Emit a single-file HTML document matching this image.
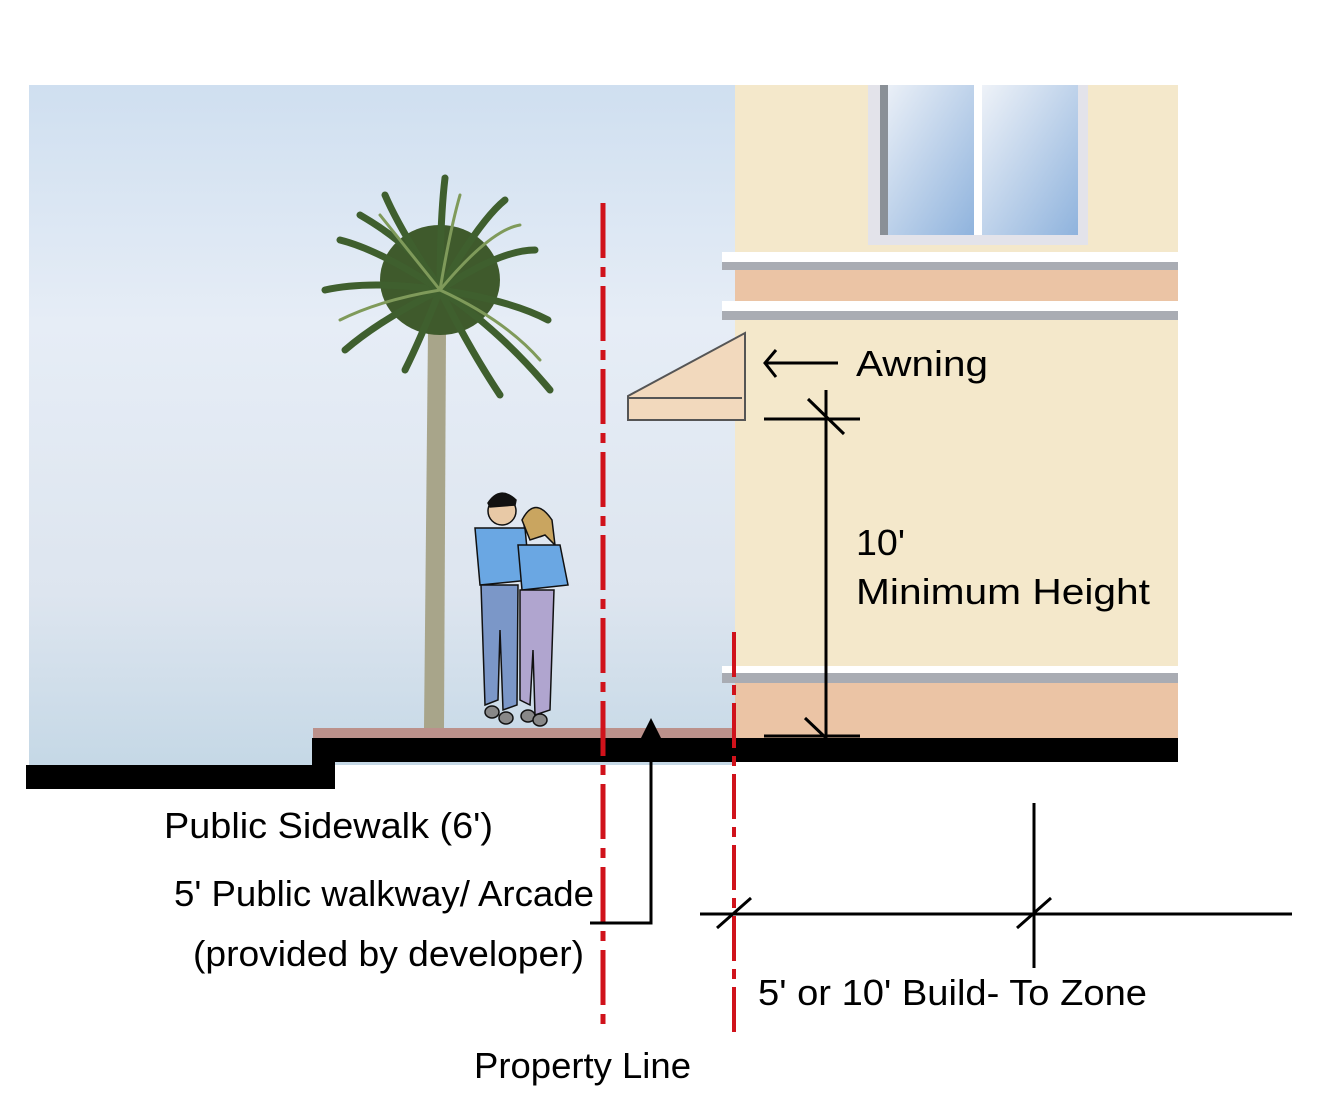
<!DOCTYPE html>
<html><head><meta charset="utf-8"><style>
html,body{margin:0;padding:0;background:#fff}
svg{display:block}
text{font-family:"Liberation Sans",sans-serif;fill:#000}
</style></head><body>
<svg width="1323" height="1101" viewBox="0 0 1323 1101" xmlns="http://www.w3.org/2000/svg">
<defs>
<linearGradient id="sky" x1="0" y1="0" x2="0" y2="1">
<stop offset="0" stop-color="#cfdff0"/><stop offset="0.35" stop-color="#e6edf6"/><stop offset="0.75" stop-color="#dde5ef"/><stop offset="1" stop-color="#c5d8e6"/>
</linearGradient>
<linearGradient id="win" x1="0" y1="0" x2="1" y2="1">
<stop offset="0" stop-color="#eef2f8"/><stop offset="1" stop-color="#8fb3dd"/>
</linearGradient>
</defs>
<rect x="29" y="85" width="706" height="680" fill="url(#sky)"/>
<rect x="735" y="85" width="443" height="653" fill="#f4e8cb"/>
<rect x="868" y="85" width="220" height="160" fill="#e3e3ea"/>
<rect x="880" y="85" width="95" height="150" fill="url(#win)"/>
<rect x="982" y="85" width="96" height="150" fill="url(#win)"/>
<rect x="880" y="85" width="8" height="150" fill="#8a9097"/>
<rect x="974" y="85" width="8" height="150" fill="#fff"/>
<rect x="722" y="252" width="456" height="10" fill="#fff"/>
<rect x="722" y="262" width="456" height="8" fill="#a9acb3"/>
<rect x="735" y="270" width="443" height="31" fill="#ebc4a5"/>
<rect x="722" y="301" width="456" height="10" fill="#fff"/>
<rect x="722" y="311" width="456" height="9" fill="#a9acb3"/>
<rect x="722" y="666" width="456" height="7" fill="#fff"/>
<rect x="722" y="673" width="456" height="10" fill="#a9acb3"/>
<rect x="735" y="683" width="443" height="55" fill="#ebc4a5"/>
<polygon points="628,396 745,333 745,420 628,420" fill="#f2d9bd" stroke="#555" stroke-width="2"/>
<line x1="628" y1="398" x2="742" y2="398" stroke="#555" stroke-width="2"/>
<rect x="313" y="728" width="420" height="10" fill="#bb918b"/>
<!-- palm -->
<path d="M428,330 L446,330 L444,728 L424,728 Z" fill="#a8a58a"/>
<g fill="#3f5a2c">
<ellipse cx="440" cy="280" rx="60" ry="55"/>
</g>
<g stroke="#3f5f2e" stroke-width="7" stroke-linecap="round" fill="none">
<path d="M440,290 Q400,230 385,195"/><path d="M440,290 Q440,220 445,178"/><path d="M440,290 Q480,220 505,200"/>
<path d="M440,290 Q500,250 535,250"/><path d="M440,290 Q510,300 548,320"/><path d="M440,290 Q500,330 550,390"/>
<path d="M440,290 Q470,350 500,395"/><path d="M440,290 Q420,340 405,370"/><path d="M440,290 Q380,320 345,350"/>
<path d="M440,290 Q370,280 325,290"/><path d="M440,290 Q380,250 340,240"/><path d="M440,290 Q420,250 360,215"/>
</g>
<g stroke="#7f9a5a" stroke-width="3" stroke-linecap="round" fill="none">
<path d="M440,290 Q400,240 380,215"/><path d="M440,290 Q490,230 520,225"/><path d="M440,290 Q505,320 540,360"/>
<path d="M440,290 Q380,300 340,320"/><path d="M440,290 Q450,230 460,195"/>
</g>
<g stroke="#111" stroke-width="1.5">
<circle cx="502" cy="511" r="14" fill="#e8c9a6"/>
<path d="M488,503 Q500,485 516,500 L515,505 L490,507Z" fill="#111"/>
<path d="M475,528 L525,528 L530,580 L480,585 Z" fill="#6aa7e3"/>
<path d="M481,585 L518,585 L517,705 L503,710 L500,630 L498,700 L485,705 Z" fill="#7b97c8"/>
<circle cx="537" cy="524" r="13" fill="#e8c9a6"/>
<path d="M522,520 Q535,495 552,520 L555,545 L545,535 L530,540Z" fill="#c9a560"/>
<path d="M518,545 L560,545 L568,585 L522,590 Z" fill="#6aa7e3"/>
<path d="M520,590 L554,590 L550,710 L535,715 L533,650 L530,705 L520,700 Z" fill="#b0a5cf"/>
<ellipse cx="492" cy="712" rx="7" ry="6" fill="#888"/><ellipse cx="506" cy="718" rx="7" ry="6" fill="#888"/>
<ellipse cx="528" cy="716" rx="7" ry="6" fill="#888"/><ellipse cx="540" cy="720" rx="7" ry="6" fill="#888"/>
</g>
<rect x="312" y="738" width="866" height="24" fill="#000"/>
<rect x="26" y="765" width="309" height="24" fill="#000"/>
<rect x="312" y="738" width="23" height="51" fill="#000"/>
<line x1="603" y1="203" x2="603" y2="1030" stroke="#d0121b" stroke-width="5" stroke-dasharray="55,9,10,9"/>
<line x1="734" y1="632" x2="734" y2="1033" stroke="#d0121b" stroke-width="4" stroke-dasharray="45,8,10,8"/>
<polyline points="590,923 651,923 651,735" fill="none" stroke="#000" stroke-width="3"/>
<polygon points="651,718 641,738 661,738" fill="#000"/>
<line x1="766" y1="363" x2="838" y2="363" stroke="#000" stroke-width="3"/>
<polyline points="776,350 765,363 776,377" fill="none" stroke="#000" stroke-width="3"/>
<line x1="826" y1="390" x2="826" y2="740" stroke="#000" stroke-width="3"/>
<line x1="764" y1="419" x2="860" y2="419" stroke="#000" stroke-width="3"/>
<line x1="808" y1="399" x2="844" y2="434" stroke="#000" stroke-width="3"/>
<line x1="764" y1="736" x2="860" y2="736" stroke="#000" stroke-width="3"/>
<line x1="805" y1="718" x2="826" y2="738" stroke="#000" stroke-width="3"/>
<line x1="700" y1="914" x2="1292" y2="914" stroke="#000" stroke-width="3"/>
<line x1="1034" y1="803" x2="1034" y2="968" stroke="#000" stroke-width="3"/>
<line x1="717" y1="928" x2="751" y2="898" stroke="#000" stroke-width="3"/>
<line x1="1017" y1="928" x2="1051" y2="898" stroke="#000" stroke-width="3"/>
<text x="856" y="376" font-size="36" textLength="132" lengthAdjust="spacingAndGlyphs">Awning</text>
<text x="856" y="555" font-size="36" textLength="49" lengthAdjust="spacingAndGlyphs">10'</text>
<text x="856" y="604" font-size="36" textLength="294" lengthAdjust="spacingAndGlyphs">Minimum Height</text>
<text x="164" y="838" font-size="36" textLength="329" lengthAdjust="spacingAndGlyphs">Public Sidewalk (6')</text>
<text x="174" y="906" font-size="36" textLength="420" lengthAdjust="spacingAndGlyphs">5' Public walkway/ Arcade</text>
<text x="193" y="966" font-size="36" textLength="391" lengthAdjust="spacingAndGlyphs">(provided by developer)</text>
<text x="758" y="1005" font-size="36" textLength="389" lengthAdjust="spacingAndGlyphs">5' or 10' Build- To Zone</text>
<text x="474" y="1078" font-size="36" textLength="217" lengthAdjust="spacingAndGlyphs">Property Line</text>
</svg>
</body></html>
